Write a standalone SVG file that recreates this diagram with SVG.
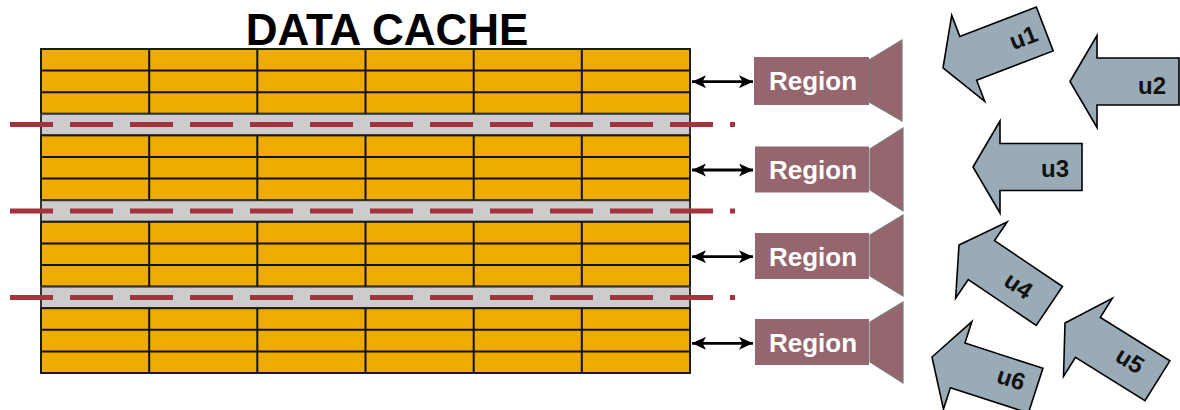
<svg xmlns="http://www.w3.org/2000/svg" width="1180" height="410" viewBox="0 0 1180 410">
<style>
.cell{fill:#F0AB00;stroke:#1a1a1a;stroke-width:2}
.band{fill:#CCCCCC;stroke:#333;stroke-width:2}
.grid{stroke:#111;stroke-width:2;fill:none}
.split{stroke:#A3333D;stroke-width:5;stroke-dasharray:43 17;fill:none}
.title{font-family:"Liberation Sans",Arial,sans-serif;font-weight:bold;font-size:44px;fill:#000}
.rbox{fill:#95666D}
.cone{fill:#95666D;stroke:#7a7a7a;stroke-width:1.2}
.rtext{font-family:"Liberation Sans",Arial,sans-serif;font-weight:bold;font-size:26px;fill:#fff}
.link{stroke:#000;stroke-width:2.8;fill:none}
.uarrow{fill:#98ABB6;stroke:#000;stroke-width:1.6;stroke-linejoin:miter}
.utext{font-family:"Liberation Sans",Arial,sans-serif;font-weight:bold;font-size:24px;fill:#111;text-anchor:middle}
</style>
<defs>
<marker id="ah" markerUnits="userSpaceOnUse" markerWidth="15" markerHeight="13" refX="14" refY="6.5" orient="auto-start-reverse">
<path d="M0,0 L14,6.5 L0,13 L3.5,6.5 Z" fill="#000"/>
</marker>
<path id="blk" d="M0,0 L27,-46 L27,-23.5 L109,-23.5 L109,23.5 L27,23.5 L27,46 Z"/>
</defs>

<text class="title" x="387" y="45" text-anchor="middle">DATA CACHE</text>

<g id="cache">
<rect class="cell" x="41" y="49" width="649" height="64.8"/>
<rect class="band" x="41" y="113.8" width="649" height="21.6"/>
<rect class="cell" x="41" y="135.4" width="649" height="64.8"/>
<rect class="band" x="41" y="200.2" width="649" height="21.6"/>
<rect class="cell" x="41" y="221.8" width="649" height="64.8"/>
<rect class="band" x="41" y="286.6" width="649" height="21.6"/>
<rect class="cell" x="41" y="308.2" width="649" height="64.8"/>
<path class="grid" d="M41,70.6H690M41,92.2H690M41,157H690M41,178.6H690M41,243.4H690M41,265H690M41,329.8H690M41,351.4H690"/>
<path class="grid" d="M149.2,49V113.8M257.3,49V113.8M365.5,49V113.8M473.7,49V113.8M581.8,49V113.8
M149.2,135.4V200.2M257.3,135.4V200.2M365.5,135.4V200.2M473.7,135.4V200.2M581.8,135.4V200.2
M149.2,221.8V286.6M257.3,221.8V286.6M365.5,221.8V286.6M473.7,221.8V286.6M581.8,221.8V286.6
M149.2,308.2V373M257.3,308.2V373M365.5,308.2V373M473.7,308.2V373M581.8,308.2V373"/>
<path class="split" d="M10,124.6H735M10,211H735M10,297.4H735"/>
</g>

<g id="connectors">
<line class="link" x1="692" y1="81.7" x2="753" y2="81.7" marker-start="url(#ah)" marker-end="url(#ah)"/>
<line class="link" x1="692" y1="170" x2="753" y2="170" marker-start="url(#ah)" marker-end="url(#ah)"/>
<line class="link" x1="692" y1="256.7" x2="753" y2="256.7" marker-start="url(#ah)" marker-end="url(#ah)"/>
<line class="link" x1="692" y1="343.3" x2="753" y2="343.3" marker-start="url(#ah)" marker-end="url(#ah)"/>
</g>

<g id="region1">
<rect class="rbox" x="754" y="57" width="115" height="48"/>
<polygon class="cone" points="869,60 902,40 902,121 869,102"/>
<text class="rtext" x="813" y="90" text-anchor="middle">Region</text>
</g>
<g id="region2">
<rect class="rbox" x="755" y="146.5" width="114" height="46"/>
<polygon class="cone" points="870,149 903,128 903,211 870,190"/>
<text class="rtext" x="813" y="179" text-anchor="middle">Region</text>
</g>
<g id="region3">
<rect class="rbox" x="755" y="233" width="114" height="46"/>
<polygon class="cone" points="870,235 903,215 903,296 870,276"/>
<text class="rtext" x="813" y="265.5" text-anchor="middle">Region</text>
</g>
<g id="region4">
<rect class="rbox" x="755" y="319" width="114" height="46"/>
<polygon class="cone" points="870,322 903,302 903,383 870,362"/>
<text class="rtext" x="813" y="351.5" text-anchor="middle">Region</text>
</g>

<g id="u1" transform="translate(943,68) rotate(-21)">
<use href="#blk" class="uarrow"/>
<text class="utext" x="86" y="8.5">u1</text>
</g>
<g id="u2" transform="translate(1070,81.5)">
<use href="#blk" class="uarrow"/>
<text class="utext" x="82" y="12.5">u2</text>
</g>
<g id="u3" transform="translate(973,167)">
<use href="#blk" class="uarrow"/>
<text class="utext" x="82" y="9.5">u3</text>
</g>
<g id="u4" transform="translate(959,245) rotate(34)">
<use href="#blk" class="uarrow"/>
<text class="utext" x="72" y="8.5">u4</text>
</g>
<g id="u5" transform="translate(1065,323) rotate(32)">
<use href="#blk" class="uarrow"/>
<text class="utext" x="75" y="5.5">u5</text>
</g>
<g id="u6" transform="translate(932,357) rotate(18)">
<use href="#blk" class="uarrow"/>
<text class="utext" x="82" y="4.5">u6</text>
</g>
</svg>
